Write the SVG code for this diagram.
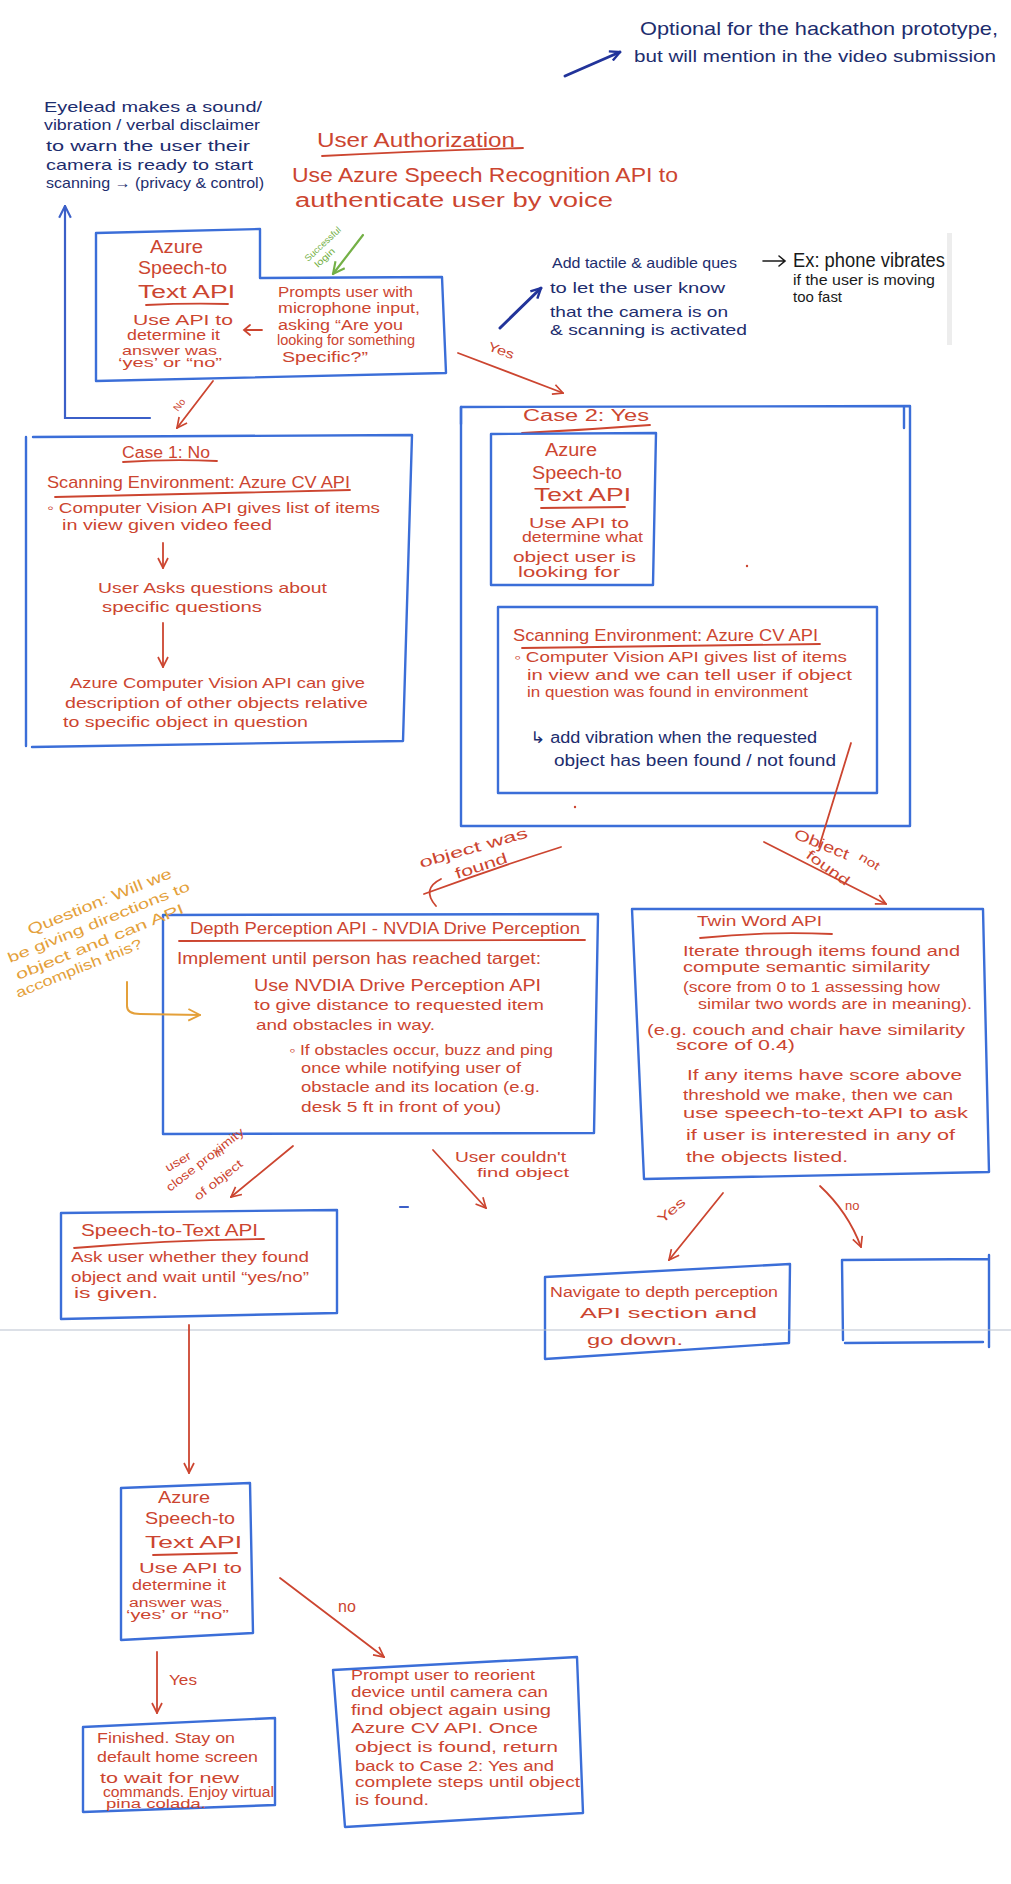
<svg xmlns="http://www.w3.org/2000/svg" width="1011" height="1884" viewBox="0 0 1011 1884">
<style>
text{font-family:"Liberation Sans",Arial,"DejaVu Sans",sans-serif;}
.r{fill:#cc4530;}
.n{fill:#1d2d6e;}
.k{fill:#1a1a1a;}
.o{fill:#e4a03a;}
.g{fill:#74b046;}
.box{fill:none;stroke:#3b6ed8;stroke-width:2.4;stroke-linejoin:round;stroke-linecap:round;}
.rl{fill:none;stroke:#cc4530;stroke-width:1.8;stroke-linecap:round;}
.bl{fill:none;stroke:#3b5fc8;stroke-width:2.2;stroke-linecap:round;}
.nl{fill:none;stroke:#22349a;stroke-width:3;stroke-linecap:round;}
.gl{fill:none;stroke:#74b046;stroke-width:2.2;stroke-linecap:round;}
.ol{fill:none;stroke:#e4a03a;stroke-width:2;stroke-linecap:round;}
.kl{fill:none;stroke:#1a1a1a;stroke-width:1.6;stroke-linecap:round;}
</style>
<defs>
<marker id="ar" viewBox="0 0 12 12" refX="11" refY="6" markerWidth="12" markerHeight="12" markerUnits="userSpaceOnUse" orient="auto"><path d="M1,1 L11,6 L1,11" fill="none" stroke="#cc4530" stroke-width="1.7"/></marker>
<marker id="ab" viewBox="0 0 12 12" refX="11" refY="6" markerWidth="14" markerHeight="14" markerUnits="userSpaceOnUse" orient="auto"><path d="M1,1 L11,6 L1,11" fill="none" stroke="#3b5fc8" stroke-width="1.8"/></marker>
<marker id="an" viewBox="0 0 12 12" refX="11" refY="6" markerWidth="12" markerHeight="12" markerUnits="userSpaceOnUse" orient="auto"><path d="M1,1 L11,6 L1,11" fill="none" stroke="#22349a" stroke-width="2.4"/></marker>
<marker id="ag" viewBox="0 0 12 12" refX="11" refY="6" markerWidth="14" markerHeight="14" markerUnits="userSpaceOnUse" orient="auto"><path d="M1,1 L11,6 L1,11" fill="none" stroke="#74b046" stroke-width="1.8"/></marker>
<marker id="ao" viewBox="0 0 12 12" refX="11" refY="6" markerWidth="14" markerHeight="14" markerUnits="userSpaceOnUse" orient="auto"><path d="M1,1 L11,6 L1,11" fill="none" stroke="#e4a03a" stroke-width="1.6"/></marker>
</defs>
<rect width="1011" height="1884" fill="#ffffff"/>

<g id="note-optional">
<text class="n" x="640" y="35" font-size="19" textLength="358" lengthAdjust="spacingAndGlyphs">Optional for the hackathon prototype,</text>
<text class="n" x="634" y="62" font-size="16" textLength="362" lengthAdjust="spacingAndGlyphs">but will mention in the video submission</text>
</g>

<g id="note-eyelead">
<text class="n" x="44" y="112" font-size="15" textLength="218" lengthAdjust="spacingAndGlyphs">Eyelead makes a sound/</text>
<text class="n" x="44" y="130" font-size="15" textLength="216" lengthAdjust="spacingAndGlyphs">vibration / verbal disclaimer</text>
<text class="n" x="46" y="151" font-size="15" textLength="204" lengthAdjust="spacingAndGlyphs">to warn the user their</text>
<text class="n" x="46" y="170" font-size="15" textLength="207" lengthAdjust="spacingAndGlyphs">camera is ready to start</text>
<text class="n" x="46" y="188" font-size="15" textLength="218" lengthAdjust="spacingAndGlyphs">scanning → (privacy &amp; control)</text>
</g>

<g id="title-user-authorization">
<text class="r" x="317" y="147" font-size="20" textLength="198" lengthAdjust="spacingAndGlyphs">User Authorization</text>
<path class="rl" d="M322,156 Q420,151 523,148" stroke-width="2.2"/>
<text class="r" x="292" y="182" font-size="20" textLength="386" lengthAdjust="spacingAndGlyphs">Use Azure Speech Recognition API to</text>
<text class="r" x="295" y="207" font-size="20" textLength="318" lengthAdjust="spacingAndGlyphs">authenticate user by voice</text>
</g>

<g id="node-speech-auth">
<path class="box" d="M96,233 L260,229 L260,278 L442,277 L446,373 L96,381 Z"/>
<text class="r" x="150" y="253" font-size="18" textLength="53" lengthAdjust="spacingAndGlyphs">Azure</text>
<text class="r" x="138" y="274" font-size="18" textLength="89" lengthAdjust="spacingAndGlyphs">Speech-to</text>
<text class="r" x="138" y="298" font-size="18" textLength="97" lengthAdjust="spacingAndGlyphs">Text API</text>
<path class="rl" d="M146,305 Q187,303 228,304" stroke-width="2"/>
<text class="r" x="133" y="325" font-size="15" textLength="100" lengthAdjust="spacingAndGlyphs">Use API to</text>
<text class="r" x="127" y="340" font-size="14" textLength="93" lengthAdjust="spacingAndGlyphs">determine it</text>
<text class="r" x="122" y="355" font-size="13" textLength="95" lengthAdjust="spacingAndGlyphs">answer was</text>
<text class="r" x="118" y="367" font-size="12" textLength="104" lengthAdjust="spacingAndGlyphs">‘yes’ or “no”</text>
<path class="rl" d="M262,330 L244,330 M250,325 L244,330 L250,335" stroke-width="1.5"/>
<text class="r" x="278" y="297" font-size="14" textLength="135" lengthAdjust="spacingAndGlyphs">Prompts user with</text>
<text class="r" x="278" y="313" font-size="14" textLength="142" lengthAdjust="spacingAndGlyphs">microphone input,</text>
<text class="r" x="278" y="330" font-size="14" textLength="125" lengthAdjust="spacingAndGlyphs">asking “Are you</text>
<text class="r" x="277" y="345" font-size="14" textLength="138" lengthAdjust="spacingAndGlyphs">looking for something</text>
<text class="r" x="282" y="362" font-size="14" textLength="86" lengthAdjust="spacingAndGlyphs">Specific?”</text>
</g>

<g id="note-tactile">
<text class="n" x="552" y="268" font-size="15" textLength="185" lengthAdjust="spacingAndGlyphs">Add tactile &amp; audible ques</text>
<text class="n" x="550" y="293" font-size="15" textLength="175" lengthAdjust="spacingAndGlyphs">to let the user know</text>
<text class="n" x="550" y="317" font-size="15" textLength="178" lengthAdjust="spacingAndGlyphs">that the camera is on</text>
<text class="n" x="550" y="335" font-size="15" textLength="197" lengthAdjust="spacingAndGlyphs">&amp; scanning is activated</text>
<path class="kl" d="M763,261 L785,261 M779,256 L785,261 L779,266"/>
<text class="k" x="793" y="267" font-size="21" textLength="152" lengthAdjust="spacingAndGlyphs">Ex: phone vibrates</text>
<text class="k" x="793" y="285" font-size="14" textLength="142" lengthAdjust="spacingAndGlyphs">if the user is moving</text>
<text class="k" x="793" y="302" font-size="14" textLength="49" lengthAdjust="spacingAndGlyphs">too fast</text>
<rect x="947" y="233" width="5" height="112" fill="#ededed"/>
</g>

<g id="node-case1">
<path class="box" d="M33,437 L412,435 L403,741 L32,747 M26,437 L26,746"/>
<text class="r" x="122" y="458" font-size="16" textLength="88" lengthAdjust="spacingAndGlyphs">Case 1: No</text>
<path class="rl" d="M123,462 Q170,459 217,461"/>
<text class="r" x="47" y="488" font-size="17" textLength="303" lengthAdjust="spacingAndGlyphs">Scanning Environment: Azure CV API</text>
<path class="rl" d="M55,497 L350,490"/>
<text class="r" x="47" y="513" font-size="15" textLength="333" lengthAdjust="spacingAndGlyphs">◦ Computer Vision API gives list of items</text>
<text class="r" x="62" y="530" font-size="15" textLength="210" lengthAdjust="spacingAndGlyphs">in view given video feed</text>
<text class="r" x="98" y="593" font-size="15" textLength="229" lengthAdjust="spacingAndGlyphs">User Asks questions about</text>
<text class="r" x="102" y="612" font-size="15" textLength="160" lengthAdjust="spacingAndGlyphs">specific questions</text>
<text class="r" x="70" y="688" font-size="15" textLength="295" lengthAdjust="spacingAndGlyphs">Azure Computer Vision API can give</text>
<text class="r" x="65" y="708" font-size="15" textLength="303" lengthAdjust="spacingAndGlyphs">description of other objects relative</text>
<text class="r" x="63" y="727" font-size="15" textLength="245" lengthAdjust="spacingAndGlyphs">to specific object in question</text>
</g>

<g id="node-case2">
<path class="box" d="M461,407 L910,406 L910,826 L461,826 Z"/>
<path class="box" d="M904,407 L904,428 M461,407 L461,424" stroke-width="3.2"/>
<text class="r" x="523" y="421" font-size="16" textLength="126" lengthAdjust="spacingAndGlyphs">Case 2: Yes</text>
<path class="rl" d="M522,433 Q585,430 650,425"/>
<g id="node-case2-speech">
<path class="box" d="M491,434 L656,433 L653,585 L491,585 Z"/>
<text class="r" x="545" y="456" font-size="18" textLength="52" lengthAdjust="spacingAndGlyphs">Azure</text>
<text class="r" x="532" y="479" font-size="18" textLength="90" lengthAdjust="spacingAndGlyphs">Speech-to</text>
<text class="r" x="534" y="501" font-size="18" textLength="97" lengthAdjust="spacingAndGlyphs">Text API</text>
<path class="rl" d="M541,508 L625,507"/>
<text class="r" x="529" y="528" font-size="14" textLength="100" lengthAdjust="spacingAndGlyphs">Use API to</text>
<text class="r" x="522" y="542" font-size="14" textLength="121" lengthAdjust="spacingAndGlyphs">determine what</text>
<text class="r" x="513" y="562" font-size="14" textLength="123" lengthAdjust="spacingAndGlyphs">object user is</text>
<text class="r" x="518" y="577" font-size="14" textLength="102" lengthAdjust="spacingAndGlyphs">looking for</text>
</g>
<g id="node-case2-scan">
<path class="box" d="M498,607 L877,607 L877,793 L498,793 Z"/>
<text class="r" x="513" y="641" font-size="16" textLength="305" lengthAdjust="spacingAndGlyphs">Scanning Environment: Azure CV API</text>
<path class="rl" d="M522,648 L820,644"/>
<text class="r" x="514" y="662" font-size="14" textLength="333" lengthAdjust="spacingAndGlyphs">◦ Computer Vision API gives list of items</text>
<text class="r" x="527" y="680" font-size="14" textLength="325" lengthAdjust="spacingAndGlyphs">in view and we can tell user if object</text>
<text class="r" x="527" y="697" font-size="14" textLength="281" lengthAdjust="spacingAndGlyphs">in question was found in environment</text>
<text class="n" x="530" y="743" font-size="16" textLength="287" lengthAdjust="spacingAndGlyphs">↳ add vibration when the requested</text>
<text class="n" x="554" y="766" font-size="16" textLength="282" lengthAdjust="spacingAndGlyphs">object has been found / not found</text>
</g>
<circle cx="747" cy="566" r="1.2" fill="#cc4530"/>
<circle cx="575" cy="807" r="1.2" fill="#cc4530"/>
</g>

<g id="node-depth">
<path class="box" d="M163,915 L598,914 L594,1133 L163,1134 Z"/>
<text class="r" x="190" y="934" font-size="16" textLength="390" lengthAdjust="spacingAndGlyphs">Depth Perception API - NVDIA Drive Perception</text>
<path class="rl" d="M179,941 L585,940"/>
<text class="r" x="177" y="964" font-size="16" textLength="364" lengthAdjust="spacingAndGlyphs">Implement until person has reached target:</text>
<text class="r" x="254" y="991" font-size="17" textLength="287" lengthAdjust="spacingAndGlyphs">Use NVDIA Drive Perception API</text>
<text class="r" x="254" y="1010" font-size="15" textLength="290" lengthAdjust="spacingAndGlyphs">to give distance to requested item</text>
<text class="r" x="256" y="1030" font-size="15" textLength="179" lengthAdjust="spacingAndGlyphs">and obstacles in way.</text>
<text class="r" x="289" y="1055" font-size="14" textLength="264" lengthAdjust="spacingAndGlyphs">◦ If obstacles occur, buzz and ping</text>
<text class="r" x="301" y="1073" font-size="14" textLength="220" lengthAdjust="spacingAndGlyphs">once while notifying user of</text>
<text class="r" x="301" y="1092" font-size="14" textLength="239" lengthAdjust="spacingAndGlyphs">obstacle and its location (e.g.</text>
<text class="r" x="301" y="1112" font-size="14" textLength="200" lengthAdjust="spacingAndGlyphs">desk 5 ft in front of you)</text>
</g>

<g id="note-question">
<text class="o" transform="translate(30,935) rotate(-22)" font-size="15" textLength="154" lengthAdjust="spacingAndGlyphs">Question: Will we</text>
<text class="o" transform="translate(10,963) rotate(-22)" font-size="14" textLength="195" lengthAdjust="spacingAndGlyphs">be giving directions to</text>
<text class="o" transform="translate(18,980) rotate(-22)" font-size="14" textLength="180" lengthAdjust="spacingAndGlyphs">object and can API</text>
<text class="o" transform="translate(18,998) rotate(-22)" font-size="14" textLength="135" lengthAdjust="spacingAndGlyphs">accomplish this?</text>
</g>

<g id="node-twinword">
<path class="box" d="M632,909 L983,909 L989,1172 L644,1179 Z"/>
<text class="r" x="697" y="926" font-size="15" textLength="125" lengthAdjust="spacingAndGlyphs">Twin Word API</text>
<path class="rl" d="M700,938 Q765,931 832,934"/>
<text class="r" x="683" y="956" font-size="14" textLength="277" lengthAdjust="spacingAndGlyphs">Iterate through items found and</text>
<text class="r" x="683" y="972" font-size="14" textLength="247" lengthAdjust="spacingAndGlyphs">compute semantic similarity</text>
<text class="r" x="683" y="992" font-size="14" textLength="257" lengthAdjust="spacingAndGlyphs">(score from 0 to 1 assessing how</text>
<text class="r" x="698" y="1009" font-size="14" textLength="274" lengthAdjust="spacingAndGlyphs">similar two words are in meaning).</text>
<text class="r" x="647" y="1035" font-size="14" textLength="318" lengthAdjust="spacingAndGlyphs">(e.g. couch and chair have similarity</text>
<text class="r" x="676" y="1050" font-size="14" textLength="119" lengthAdjust="spacingAndGlyphs">score of 0.4)</text>
<text class="r" x="687" y="1080" font-size="14" textLength="275" lengthAdjust="spacingAndGlyphs">If any items have score above</text>
<text class="r" x="683" y="1100" font-size="14" textLength="270" lengthAdjust="spacingAndGlyphs">threshold we make, then we can</text>
<text class="r" x="683" y="1118" font-size="14" textLength="285" lengthAdjust="spacingAndGlyphs">use speech-to-text API to ask</text>
<text class="r" x="686" y="1140" font-size="14" textLength="269" lengthAdjust="spacingAndGlyphs">if user is interested in any of</text>
<text class="r" x="686" y="1162" font-size="14" textLength="162" lengthAdjust="spacingAndGlyphs">the objects listed.</text>
</g>

<g id="node-speech-confirm">
<path class="box" d="M61,1213 L337,1210 L337,1313 L61,1319 Z"/>
<text class="r" x="81" y="1236" font-size="16" textLength="177" lengthAdjust="spacingAndGlyphs">Speech-to-Text API</text>
<path class="rl" d="M74,1248 Q168,1240 264,1239"/>
<text class="r" x="71" y="1262" font-size="14" textLength="238" lengthAdjust="spacingAndGlyphs">Ask user whether they found</text>
<text class="r" x="71" y="1282" font-size="14" textLength="238" lengthAdjust="spacingAndGlyphs">object and wait until “yes/no”</text>
<text class="r" x="74" y="1298" font-size="14" textLength="84" lengthAdjust="spacingAndGlyphs">is given.</text>
</g>

<g id="node-navigate">
<path class="box" d="M545,1277 L790,1264 L789,1343 L545,1359 Z"/>
<text class="r" x="550" y="1297" font-size="14" textLength="228" lengthAdjust="spacingAndGlyphs">Navigate to depth perception</text>
<text class="r" x="580" y="1318" font-size="14" textLength="177" lengthAdjust="spacingAndGlyphs">API section and</text>
<text class="r" x="587" y="1345" font-size="14" textLength="96" lengthAdjust="spacingAndGlyphs">go down.</text>
</g>

<g id="node-empty">
<path class="box" d="M842,1260 L989,1259 M989,1255 L989,1347 M842,1260 L843,1340 M845,1343 L983,1342"/>
</g>

<path d="M0,1330 L1011,1330" stroke="#b9c1cf" stroke-width="1.2" fill="none"/>

<g id="node-speech-final">
<path class="box" d="M121,1488 L250,1483 L253,1633 L121,1640 Z"/>
<text class="r" x="158" y="1503" font-size="16" textLength="52" lengthAdjust="spacingAndGlyphs">Azure</text>
<text class="r" x="145" y="1524" font-size="17" textLength="90" lengthAdjust="spacingAndGlyphs">Speech-to</text>
<text class="r" x="145" y="1548" font-size="17" textLength="97" lengthAdjust="spacingAndGlyphs">Text API</text>
<path class="rl" d="M153,1555 L237,1553"/>
<text class="r" x="139" y="1573" font-size="14" textLength="103" lengthAdjust="spacingAndGlyphs">Use API to</text>
<text class="r" x="132" y="1590" font-size="14" textLength="94" lengthAdjust="spacingAndGlyphs">determine it</text>
<text class="r" x="129" y="1607" font-size="12" textLength="93" lengthAdjust="spacingAndGlyphs">answer was</text>
<text class="r" x="126" y="1619" font-size="12" textLength="103" lengthAdjust="spacingAndGlyphs">‘yes’ or “no”</text>
</g>

<g id="node-finished">
<path class="box" d="M83,1727 L275,1718 L275,1805 L83,1812 Z"/>
<text class="r" x="97" y="1743" font-size="14" textLength="138" lengthAdjust="spacingAndGlyphs">Finished. Stay on</text>
<text class="r" x="97" y="1762" font-size="14" textLength="161" lengthAdjust="spacingAndGlyphs">default home screen</text>
<text class="r" x="100" y="1783" font-size="14" textLength="139" lengthAdjust="spacingAndGlyphs">to wait for new</text>
<text class="r" x="103" y="1797" font-size="14" textLength="171" lengthAdjust="spacingAndGlyphs">commands. Enjoy virtual</text>
<text class="r" x="106" y="1808" font-size="12" textLength="100" lengthAdjust="spacingAndGlyphs">pina colada.</text>
</g>

<g id="node-prompt-reorient">
<path class="box" d="M333,1670 L577,1657 L583,1813 L345,1827 Z"/>
<text class="r" x="351" y="1680" font-size="14" textLength="184" lengthAdjust="spacingAndGlyphs">Prompt user to reorient</text>
<text class="r" x="351" y="1697" font-size="14" textLength="197" lengthAdjust="spacingAndGlyphs">device until camera can</text>
<text class="r" x="351" y="1715" font-size="14" textLength="200" lengthAdjust="spacingAndGlyphs">find object again using</text>
<text class="r" x="351" y="1733" font-size="15" textLength="187" lengthAdjust="spacingAndGlyphs">Azure CV API. Once</text>
<text class="r" x="355" y="1752" font-size="14" textLength="203" lengthAdjust="spacingAndGlyphs">object is found, return</text>
<text class="r" x="355" y="1771" font-size="14" textLength="199" lengthAdjust="spacingAndGlyphs">back to Case 2: Yes and</text>
<text class="r" x="355" y="1787" font-size="14" textLength="225" lengthAdjust="spacingAndGlyphs">complete steps until object</text>
<text class="r" x="355" y="1805" font-size="14" textLength="74" lengthAdjust="spacingAndGlyphs">is found.</text>
</g>

<g id="connectors">
<path class="nl" d="M565,76 L620,52" stroke-width="2" marker-end="url(#an)"/>
<path class="bl" d="M150,418 L65,418 L65,206" marker-end="url(#ab)"/>
<path class="gl" d="M363,235 L333,274" marker-end="url(#ag)"/>
<text class="g" transform="translate(308,262) rotate(-43)" font-size="9" textLength="46" lengthAdjust="spacingAndGlyphs">Successful</text>
<text class="g" transform="translate(318,268) rotate(-43)" font-size="9" textLength="24" lengthAdjust="spacingAndGlyphs">login</text>
<path class="rl" d="M213,381 L177,428" marker-end="url(#ar)"/>
<text class="r" transform="translate(178,412) rotate(-52)" font-size="10">No</text>
<path class="rl" d="M458,353 L563,393" marker-end="url(#ar)"/>
<text class="r" transform="translate(487,350) rotate(20)" font-size="13" textLength="27" lengthAdjust="spacingAndGlyphs">Yes</text>
<path class="nl" d="M500,328 L541,288" marker-end="url(#an)"/>
<path class="rl" d="M163,543 L163,568" marker-end="url(#ar)"/>
<path class="rl" d="M163,623 L163,667" marker-end="url(#ar)"/>
<path class="rl" d="M851,743 L819,847"/>
<path class="rl" d="M561,847 Q495,868 424,894" stroke-width="2.2"/>
<path class="rl" d="M441,879 Q421,889 436,906" stroke-width="2.2"/>
<text class="r" transform="translate(421,868) rotate(-16)" font-size="15" textLength="112" lengthAdjust="spacingAndGlyphs">object was</text>
<text class="r" transform="translate(457,879) rotate(-18)" font-size="15" textLength="54" lengthAdjust="spacingAndGlyphs">found</text>
<path class="rl" d="M764,842 L886,904" stroke-width="2" marker-end="url(#ar)"/>
<text class="r" transform="translate(793,838) rotate(22)" font-size="15" textLength="58" lengthAdjust="spacingAndGlyphs">Object</text>
<text class="r" transform="translate(805,857) rotate(36)" font-size="14" textLength="50" lengthAdjust="spacingAndGlyphs">found</text>
<text class="r" transform="translate(858,859) rotate(32)" font-size="12" textLength="22" lengthAdjust="spacingAndGlyphs">not</text>
<path class="ol" d="M127,982 L127,1006 Q127,1014 140,1014 L200,1015" marker-end="url(#ao)"/>
<path class="rl" d="M293,1146 L231,1197" marker-end="url(#ar)"/>
<text class="r" transform="translate(168,1172) rotate(-30)" font-size="12" textLength="28" lengthAdjust="spacingAndGlyphs">user</text>
<text class="r" transform="translate(217,1158) rotate(-30)" font-size="12">in</text>
<text class="r" transform="translate(170,1192) rotate(-38)" font-size="12" textLength="95" lengthAdjust="spacingAndGlyphs">close proximity</text>
<text class="r" transform="translate(198,1201) rotate(-38)" font-size="12" textLength="58" lengthAdjust="spacingAndGlyphs">of object</text>
<path class="rl" d="M433,1150 L486,1208" marker-end="url(#ar)"/>
<text class="r" x="455" y="1162" font-size="14" textLength="111" lengthAdjust="spacingAndGlyphs">User couldn't</text>
<text class="r" x="477" y="1177" font-size="13" textLength="92" lengthAdjust="spacingAndGlyphs">find object</text>
<path class="bl" d="M400,1207 L408,1207"/>
<path class="rl" d="M723,1193 L669,1260" marker-end="url(#ar)"/>
<text class="r" transform="translate(662,1224) rotate(-40)" font-size="13" textLength="32" lengthAdjust="spacingAndGlyphs">Yes</text>
<path class="rl" d="M820,1186 Q848,1212 861,1247" marker-end="url(#ar)"/>
<text class="r" x="845" y="1210" font-size="13">no</text>
<path class="rl" d="M189,1325 L189,1473" marker-end="url(#ar)"/>
<path class="rl" d="M157,1652 L157,1713" marker-end="url(#ar)"/>
<text class="r" x="169" y="1685" font-size="15" textLength="28" lengthAdjust="spacingAndGlyphs">Yes</text>
<path class="rl" d="M280,1578 L384,1657" marker-end="url(#ar)"/>
<text class="r" x="338" y="1612" font-size="16">no</text>
</g>
</svg>
